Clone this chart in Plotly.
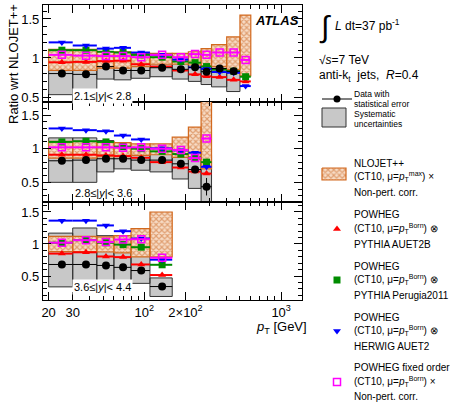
import math
import plotly.graph_objects as go

W, H = 458, 402
FONT = "Liberation Sans"

# ---------------- data ----------------
edges1 = [20, 30, 45, 60, 80, 110, 160, 210, 260, 310, 400, 500, 600]
data1 = [0.80, 0.79, 0.89, 0.84, 0.84, 0.875, 0.855, 0.88, 0.825, 0.865, 0.83]
data1_err = [0.01, 0.01, 0.01, 0.01, 0.01, 0.01, 0.015, 0.02, 0.025, 0.03, 0.045]
sys1_lo = [0.53, 0.53, 0.73, 0.72, 0.74, 0.76, 0.73, 0.70, 0.66, 0.63, 0.57]
sys1_hi = [1.10, 1.10, 1.06, 1.06, 1.06, 1.04, 1.04, 1.06, 1.10, 1.14, 1.14]
nlo1_lo = [0.84, 0.84, 0.87, 0.87, 0.89, 0.92, 0.92, 0.91, 0.90, 0.89, 0.85, 0.77]
nlo1_hi = [1.11, 1.11, 1.08, 1.08, 1.06, 1.06, 1.06, 1.08, 1.12, 1.17, 1.27, 1.55]
red1 = [0.945, 0.95, 0.96, 0.965, 0.92, 0.89, 0.84, 0.79, 0.765, 0.755, 0.72, 0.70]
green1 = [1.10, 1.10, 1.08, 1.07, 1.04, 1.01, 0.955, 0.94, 0.89, 0.85, 0.83, 0.76]
blue1 = [1.20, 1.16, 1.12, 1.13, 1.07, 1.04, 0.98, 0.88, 0.86, 0.82, 0.81, 0.64]
mag1 = [1.04, 1.03, 1.025, 1.025, 1.01, 1.04, 1.01, 1.05, 1.04, 1.07, 1.07, 0.975]

edges2 = [20, 30, 45, 60, 80, 110, 160, 210, 260, 310]
data2 = [0.82, 0.83, 0.85, 0.85, 0.83, 0.83, 0.775, 0.69, 0.435]
data2_err = [0.01, 0.01, 0.01, 0.01, 0.01, 0.015, 0.02, 0.03, 0.13]
sys2_lo = [0.50, 0.50, 0.655, 0.70, 0.68, 0.655, 0.55, 0.41, 0.10]
sys2_hi = [1.16, 1.16, 1.12, 1.08, 1.06, 1.05, 1.04, 1.00, 0.90]
nlo2_lo = [0.86, 0.86, 0.88, 0.88, 0.90, 0.91, 0.87, 0.84, 0.70]
nlo2_hi = [1.11, 1.11, 1.10, 1.09, 1.07, 1.07, 1.17, 1.32, 1.80]
red2 = [0.91, 0.91, 0.90, 0.89, 0.865, 0.80, 0.72, 0.66, 0.63]
green2 = [1.10, 1.11, 1.10, 1.03, 1.00, 0.96, 0.92, 0.87, 0.80]
blue2 = [1.30, 1.275, 1.26, 1.195, 1.137, 1.005, 0.975, 0.94, 0.73]
mag2 = [1.02, 1.02, 1.02, 1.015, 1.02, 1.00, 0.98, 0.86, 1.15]

edges3 = [20, 30, 45, 60, 80, 110, 160]
data3 = [0.68, 0.68, 0.665, 0.635, 0.585, 0.335]
data3_err = [0.01, 0.01, 0.01, 0.01, 0.015, 0.03]
sys3_lo = [0.33, 0.375, 0.385, 0.385, 0.385, 0.18]
sys3_hi = [1.17, 1.25, 1.13, 1.10, 1.00, 0.47]
nlo3_lo = [0.88, 0.88, 0.875, 0.86, 0.80, 0.80]
nlo3_hi = [1.12, 1.12, 1.11, 1.13, 1.24, 1.50]
red3 = [0.85, 0.87, 0.805, 0.795, 0.68, 0.515]
green3 = [1.02, 1.06, 1.02, 0.99, 0.95, 0.675]
blue3 = [1.365, 1.365, 1.29, 1.20, 1.085, 0.755]
mag3 = [1.02, 1.06, 1.03, 1.07, 1.075, 0.785]

rap_labels = ["2.1\u2264|<i>y</i>|< 2.8", "2.8\u2264|<i>y</i>|< 3.6", "3.6\u2264|<i>y</i>|< 4.4"]
x_tickvals = [20, 30, 100, 200, 1000]
x_ticktext = ["20", "30", "10<sup>2</sup>", "2\u00d710<sup>2</sup>", "10<sup>3</sup>"]
x_minor = [40, 50, 60, 70, 80, 90, 300, 400, 500, 600, 700, 800, 900]
y_tickvals = [0.5, 1, 1.5]
y_ticktext = ["0.5", "1", "1.5"]

ORANGE = "#d2691e"
GRAY = "#c8c8c8"
RED = "#ff0000"
GREEN = "#008c00"
BLUE = "#0000ff"
MAGENTA = "#ff00ff"
HATCH = dict(shape="x", fgcolor="#c8601a", bgcolor="#f7dcc6", size=4, solidity=0.5)

panels = [
    dict(edges=edges1, data=data1, err=data1_err, slo=sys1_lo, shi=sys1_hi,
         nlo=nlo1_lo, nhi=nlo1_hi, red=red1, green=green1, blue=blue1, mag=mag1,
         ytop=5, ybot=102, yr=[0.436, 1.679]),
    dict(edges=edges2, data=data2, err=data2_err, slo=sys2_lo, shi=sys2_hi,
         nlo=nlo2_lo, nhi=nlo2_hi, red=red2, green=green2, blue=blue2, mag=mag2,
         ytop=102, ybot=202, yr=[0.208, 1.693]),
    dict(edges=edges3, data=data3, err=data3_err, slo=sys3_lo, shi=sys3_hi,
         nlo=nlo3_lo, nhi=nlo3_hi, red=red3, green=green3, blue=blue3, mag=mag3,
         ytop=202, ybot=300, yr=[0.125, 1.656]),
]


def band(edges, lo, hi):
    xs, ys = [], []
    for i, (l, h) in enumerate(zip(lo, hi)):
        a, b = edges[i], edges[i + 1]
        xs += [a, b, b, a, a, None]
        ys += [l, l, h, h, l, None]
    return xs, ys


def centers(edges, n):
    return [(edges[i] + edges[i + 1]) / 2 for i in range(n)]


def series(edges, vals, color, symbol, size, xa, ya, lw=2, mline=0):
    n = len(vals)
    c = centers(edges, n)
    return go.Scatter(
        x=c, y=vals, mode="markers", xaxis=xa, yaxis=ya, showlegend=False,
        marker=dict(symbol=symbol, size=size, color=color, line=dict(width=mline, color=color)),
        error_x=dict(type="data", symmetric=False,
                     array=[edges[i + 1] - c[i] for i in range(n)],
                     arrayminus=[c[i] - edges[i] for i in range(n)],
                     width=0, thickness=lw, color=color),
        hoverinfo="skip")


fig = go.Figure()

for k, p in enumerate(panels):
    xa = "x" if k == 0 else f"x{k+1}"
    ya = "y" if k == 0 else f"y{k+1}"
    e = p["edges"]
    gx, gy = band(e, p["slo"], p["shi"])
    fig.add_trace(go.Scatter(x=gx, y=gy, mode="lines", fill="toself", fillcolor=GRAY,
                             line=dict(color="#333333", width=1), xaxis=xa, yaxis=ya,
                             showlegend=False, hoverinfo="skip"))
    ox, oy = band(e, p["nlo"], p["nhi"])
    fig.add_trace(go.Scatter(x=ox, y=oy, mode="lines", fill="toself", fillcolor="#f7dcc6",
                             fillpattern=HATCH,
                             line=dict(color=ORANGE, width=1.2), xaxis=xa, yaxis=ya,
                             showlegend=False, hoverinfo="skip"))
    fig.add_trace(series(e, p["red"], RED, "triangle-up", 7, xa, ya))
    fig.add_trace(series(e, p["green"], GREEN, "square", 7, xa, ya))
    fig.add_trace(series(e, p["blue"], BLUE, "triangle-down", 7, xa, ya))
    fig.add_trace(series(e, p["mag"], MAGENTA, "square-open", 7, xa, ya, mline=1.5))
    n = len(p["data"])
    c = centers(e, n)
    fig.add_trace(go.Scatter(
        x=c, y=p["data"], mode="markers", xaxis=xa, yaxis=ya, showlegend=False,
        marker=dict(symbol="circle", size=8, color="black"),
        error_x=dict(type="data", symmetric=False,
                     array=[e[i + 1] - c[i] for i in range(n)],
                     arrayminus=[c[i] - e[i] for i in range(n)],
                     width=0, thickness=1, color="black"),
        error_y=dict(type="data", array=p["err"], width=0, thickness=1, color="black"),
        hoverinfo="skip"))

xdom = [43 / W, 302 / W]
xrange_log = [1.26, math.log10(1420)]

axis_common = dict(showline=True, linecolor="black", linewidth=1.2, mirror="allticks",
                   ticks="inside", tickcolor="black", showgrid=False, zeroline=False,
                   automargin=False)

layout = dict(width=W, height=H, margin=dict(l=0, r=0, t=0, b=0),
              paper_bgcolor="white", plot_bgcolor="rgba(0,0,0,0)",
              font=dict(family=FONT, color="black", size=12), showlegend=False)

for k, p in enumerate(panels):
    xn = "xaxis" if k == 0 else f"xaxis{k+1}"
    yn = "yaxis" if k == 0 else f"yaxis{k+1}"
    yanc = "y" if k == 0 else f"y{k+1}"
    xanc = "x" if k == 0 else f"x{k+1}"
    layout[xn] = dict(axis_common, type="log", domain=xdom, range=xrange_log, anchor=yanc,
                      tickmode="array", tickvals=x_tickvals, ticktext=x_ticktext,
                      ticklen=8, tickwidth=1,
                      minor=dict(tickmode="array", tickvals=x_minor, ticks="inside",
                                 ticklen=4, tickcolor="black", tickwidth=1),
                      showticklabels=(k == 2), tickfont=dict(size=13, family=FONT))
    layout[yn] = dict(axis_common, domain=[1 - p["ybot"] / H, 1 - p["ytop"] / H],
                      range=p["yr"], anchor=xanc,
                      tickmode="array", tickvals=y_tickvals, ticktext=y_ticktext,
                      ticklen=8, tickwidth=1,
                      minor=dict(tickmode="linear", tick0=0, dtick=0.1, ticks="inside",
                                 ticklen=4, tickcolor="black", tickwidth=1),
                      tickfont=dict(size=13, family=FONT))

# overlay axis in pixel coordinates for legend keys
layout["xaxis4"] = dict(domain=[0, 1], range=[0, W], visible=False, anchor="y4", fixedrange=True)
layout["yaxis4"] = dict(domain=[0, 1], range=[H, 0], visible=False, anchor="x4", fixedrange=True)

fig.update_layout(**layout)

# legend keys
fig.add_trace(go.Scatter(x=[322, 352], y=[99, 99], mode="lines", line=dict(color="black", width=1),
                         xaxis="x4", yaxis="y4", showlegend=False, hoverinfo="skip"))
fig.add_trace(go.Scatter(x=[337], y=[99], mode="markers", marker=dict(color="black", size=7),
                         xaxis="x4", yaxis="y4", showlegend=False, hoverinfo="skip"))
fig.add_trace(go.Scatter(x=[322, 346, 346, 322, 322], y=[108, 108, 127, 127, 108], mode="lines",
                         fill="toself", fillcolor=GRAY, line=dict(color="#333333", width=1),
                         xaxis="x4", yaxis="y4", showlegend=False, hoverinfo="skip"))
fig.add_trace(go.Scatter(x=[322, 346, 346, 322, 322], y=[168, 168, 180, 180, 168], mode="lines",
                         fill="toself", fillcolor="#f7dcc6", fillpattern=HATCH,
                         line=dict(color=ORANGE, width=1.2),
                         xaxis="x4", yaxis="y4", showlegend=False, hoverinfo="skip"))
for (yy, col, sym, lw) in [(229, RED, "triangle-up", 0), (280, GREEN, "square", 0),
                           (331, BLUE, "triangle-down", 0), (382, MAGENTA, "square-open", 1.5)]:
    fig.add_trace(go.Scatter(x=[337], y=[yy], mode="markers",
                             marker=dict(symbol=sym, size=7, color=col, line=dict(width=lw, color=col)),
                             xaxis="x4", yaxis="y4", showlegend=False, hoverinfo="skip"))


def ann(x, y, text, size=10, xanchor="left", yanchor="middle", **kw):
    fig.add_annotation(x=x / W, y=1 - y / H, xref="paper", yref="paper", text=text,
                       showarrow=False, xanchor=xanchor, yanchor=yanchor,
                       font=dict(family=FONT, size=size, color="black"), **kw)


# rapidity labels
ann(102, 96, rap_labels[0], size=11, xanchor="center", bgcolor="white", borderpad=1)
ann(103, 193, rap_labels[1], size=11, xanchor="center")
ann(102, 287, rap_labels[2], size=11, xanchor="center", bgcolor="white", borderpad=1)

# axis titles
ann(14, 2, "Ratio wrt NLOJET++", size=13, xanchor="center", yanchor="top", textangle=-90)
ann(309, 327, "<i>p</i><sub>T</sub> [GeV]", size=13, xanchor="right")

# ATLAS
ann(253, 20, "<b><i>ATLAS</i></b>", size=13)

# right-side text
ann(317, 27, "\u222b", size=30)
ann(333, 25, "<i>L</i> dt=37 pb<sup>-1</sup>", size=12)
ann(317, 60, "\u221a<i>s</i>=7 TeV", size=12)
ann(317, 76, "anti-k<sub>t</sub>  jets,  <i>R</i>=0.4", size=12)

ann(352, 94, "Data with", size=8.5)
ann(352, 104, "statistical error", size=8.5)
ann(352, 114, "Systematic", size=8.5)
ann(352, 124, "uncertainties", size=8.5)

ann(352, 163, "NLOJET++", size=10)
ann(352, 176, "(CT10, \u03bc=<i>p</i><sub>T</sub><sup>max</sup>) \u00d7", size=10)
ann(352, 192, "Non-pert. corr.", size=10)

for y0, last in [(215, "PYTHIA AUET2B"), (266, "PYTHIA Perugia2011"), (317, "HERWIG AUET2")]:
    ann(352, y0, "POWHEG", size=10)
    ann(352, y0 + 13.5, "(CT10, \u03bc=<i>p</i><sub>T</sub><sup>Born</sup>) \u2297", size=10)
    ann(352, y0 + 29.5, last, size=10)

ann(352, 367, "POWHEG fixed order", size=10)
ann(352, 381, "(CT10, \u03bc=<i>p</i><sub>T</sub><sup>Born</sup>) \u00d7", size=10)
ann(352, 396, "Non-pert. corr.", size=10)

fig.write_html("out.html", config={"displayModeBar": False},
               post_script="document.body.style.margin='0';document.body.style.padding='0';")
